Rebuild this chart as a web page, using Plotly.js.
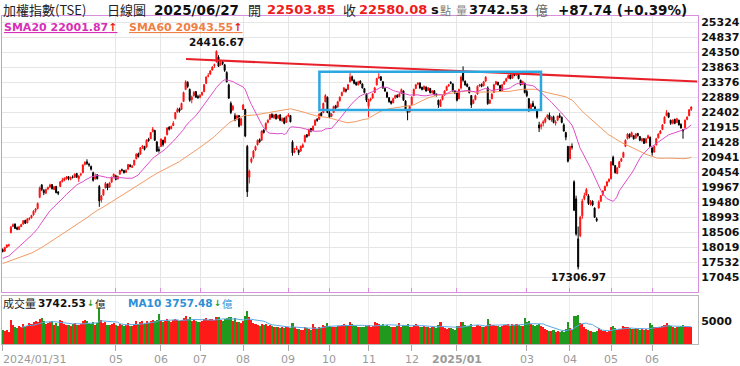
<!DOCTYPE html>
<html><head><meta charset="utf-8">
<script src="https://cdn.plot.ly/plotly-3.0.1.min.js"></script>
<style>html,body{margin:0;padding:0;background:#fff;}#chart{width:740px;height:366px;}</style>
</head><body><div id="chart"></div>
<script>
// ---- data (TAIEX daily, 2024/01/31 .. 2025/06/27) ----
const opens = [
17950,17900,18030,18090,18500,18700,18780,18660,18600,18700,
18780,18900,18820,18940,18980,19080,19220,19280,19650,20050,
19870,19780,19920,19980,20060,19900,20000,19820,20000,20160,
20200,20250,20320,20230,20310,20300,20420,20250,20380,20450,
20720,20800,20720,20650,20450,20250,20380,20000,19560,19720,
19950,20080,19980,20140,20320,20350,20240,20400,20540,20520,
20460,20560,20700,20620,20700,20900,21060,21050,21280,21300,
21280,21530,21550,21780,21820,21450,21200,21300,21500,21420,
21680,21920,21880,21980,22200,22420,22520,22500,22760,23150,
23380,23150,22820,22950,23080,22920,22900,22980,23080,23350,
23580,23650,23780,23920,24050,24200,23950,24050,23950,23700,
23300,22700,22500,22300,22200,22300,22000,22500,22500,21300,
20300,20800,20950,21180,21350,21520,21500,21830,21850,22080,
22180,22340,22230,22340,22220,22320,22130,22220,22080,22280,
22300,21450,21120,21200,21180,21150,21280,21450,21680,21650,
21880,21820,21990,22180,22180,22380,22400,22750,22900,22400,
22280,22400,22620,22580,22780,22950,23080,23150,23150,23400,
23560,23450,23380,23300,23420,23330,23180,23000,22600,22800,
22870,23050,23300,23520,23560,23400,23180,23050,22880,22760,
22720,22870,22960,22920,23020,23100,22780,22480,22420,22650,
22950,23180,23320,23360,23220,23160,23230,23120,23180,23040,
23110,23000,22800,22600,22820,22970,23120,23260,23380,23330,
23100,23050,22850,23200,23750,23420,23320,23220,22950,22700,
22820,23000,23260,23320,23270,23420,23200,22700,22850,23050,
23320,23380,23280,23120,23320,23420,23520,23620,23520,23680,
23620,23650,23450,23320,23350,23080,22850,22500,22700,22580,
22450,22000,21950,22050,22100,22250,22320,22150,22270,22050,
22150,22300,22250,22000,21750,21300,20900,21300,20150,19600,
18300,18400,19050,19600,19720,19700,19420,19520,19300,18950,
19300,19520,19720,19870,20020,20170,20250,20950,20680,20420,
20620,20820,20950,21300,21550,21700,21620,21650,21570,21720,
21620,21480,21550,21420,21570,21600,21250,21120,21350,21580,
21720,21850,22050,22300,22380,22150,22050,22180,22080,22150,
22020,21850,21900,22180,22300,22503.85];
const highs = [
17990,18040,18120,18140,18720,18800,18800,18700,18720,18790,
18900,18920,18970,19000,19080,19230,19300,19480,20000,20080,
19920,19930,20000,20090,20080,20020,20020,19850,20180,20280,
20300,20340,20340,20320,20360,20420,20440,20360,20440,20720,
20820,20883,20770,20680,20480,20420,20400,20050,19720,19920,
20150,20090,20150,20320,20420,20380,20350,20540,20580,20540,
20560,20730,20720,20700,20870,21080,21100,21280,21340,21320,
21530,21580,21770,21930,21840,21460,21300,21560,21520,21620,
21920,21960,21980,22120,22420,22560,22560,22720,23080,23450,
23420,23180,22950,23100,23100,22980,23000,23080,23330,23580,
23680,23780,23900,23990,24416.67,24260,24080,24100,23980,23740,
23340,22760,22650,22380,22330,22320,22230,22680,22520,21350,
20550,20950,21180,21330,21520,21560,21820,21860,22080,22180,
22360,22380,22350,22360,22330,22350,22240,22240,22300,22380,
22320,21500,21250,21320,21200,21330,21400,21680,21700,21880,
21900,21980,22180,22220,22380,22420,22720,23000,22920,22450,
22380,22620,22650,22780,22920,23080,23230,23180,23330,23680,
23600,23480,23400,23430,23450,23350,23200,23020,22850,22880,
23030,23230,23530,23680,23580,23420,23220,23080,22900,22790,
22880,22980,22990,23030,23180,23120,22800,22500,22630,22930,
23180,23330,23390,23380,23240,23280,23250,23230,23200,23130,
23120,23020,22820,22830,22980,23120,23270,23330,23420,23350,
23130,23080,23180,23600,23900,23440,23350,23240,22970,22830,
22980,23280,23330,23340,23430,23580,23250,22830,23030,23330,
23430,23400,23300,23330,23430,23530,23640,23640,23720,23700,
23730,23670,23470,23430,23370,23150,22870,22700,22780,22620,
22470,22100,22050,22150,22250,22350,22400,22280,22300,22150,
22300,22380,22270,22050,21780,21320,21320,21400,20200,19700,
18700,19050,19600,19800,19950,19750,19560,19550,19320,19000,
19550,19720,19880,20030,20180,20260,20820,21000,20700,20630,
20830,20930,21130,21530,21730,21720,21780,21670,21730,21740,
21640,21580,21570,21580,21680,21620,21270,21330,21580,21730,
21830,22030,22280,22480,22400,22170,22180,22200,22230,22170,
22050,21870,22180,22280,22510,22600];
const lows = [
17860,17880,18000,18040,18480,18680,18620,18580,18590,18680,
18760,18780,18800,18900,18960,19050,19150,19260,19620,19850,
19720,19760,19880,19950,19900,19880,19780,19720,19980,20130,
20170,20220,20200,20200,20260,20280,20280,20150,20330,20430,
20680,20700,20640,20520,20160,20220,20230,19340,19480,19700,
19940,19880,19960,20130,20300,20200,20230,20390,20480,20420,
20440,20540,20620,20600,20680,20880,20940,21030,21220,21170,
21260,21450,21540,21760,21480,21120,21100,21280,21300,21400,
21660,21820,21850,21960,22180,22400,22400,22480,22740,23130,
23200,22750,22700,22920,22880,22850,22860,22940,23060,23330,
23540,23620,23760,23850,24020,23880,23920,23940,23720,23380,
22840,22350,22450,22120,22150,21920,21960,22480,21600,19662,
20100,20750,20900,21150,21330,21420,21480,21720,21830,22050,
22160,22220,22200,22170,22190,22120,22100,22020,22060,22250,
22080,21000,21080,21180,21020,21130,21250,21430,21580,21630,
21760,21800,21970,22100,22160,22270,22380,22730,22380,22220,
22250,22380,22500,22560,22760,22930,23060,23050,23130,23380,
23420,23320,23270,23280,23320,23180,23020,22740,22250,22760,
22850,23030,23280,23500,23420,23170,23070,22870,22720,22660,
22700,22850,22870,22900,23000,22780,22480,22150,22400,22630,
22930,23160,23290,23170,23120,23140,23080,23100,23020,23020,
22950,22920,22550,22580,22800,22950,23100,23240,23320,23080,
23000,22760,22830,23150,23400,23270,23220,23020,22550,22680,
22800,22980,23240,23220,23250,23400,22650,22680,22830,23030,
23300,23280,23080,23100,23300,23400,23500,23480,23500,23580,
23600,23480,23280,23300,23020,22900,22420,22450,22580,22450,
22200,21770,21850,21950,22050,22200,22150,22100,22050,21980,
22120,22220,22050,21780,21500,20780,20880,21200,19200,18400,
17306.97,18350,18950,19550,19700,19400,19380,19360,18980,18850,
19280,19500,19700,19850,20000,20130,20230,20680,20420,20400,
20600,20800,20930,21280,21530,21560,21600,21520,21550,21620,
21470,21460,21380,21400,21550,21280,21000,21100,21330,21560,
21700,21830,22030,22280,22220,22000,22020,22020,22060,21980,
21880,21550,21880,22150,22280,22450];
const closes = [
17890,18020,18100,18100,18680,18760,18640,18620,18690,18760,
18890,18810,18950,18966,19060,19200,19270,19450,19950,19900,
19800,19900,19960,20050,19930,19990,19800,19780,20150,20200,
20260,20300,20250,20300,20294,20400,20300,20340,20400,20700,
20780,20750,20700,20560,20200,20320,20250,19527,19690,19900,
20100,19950,20120,20300,20400,20230,20330,20520,20530,20450,
20520,20710,20650,20660,20850,21050,20970,21260,21310,21200,
21510,21490,21750,21860,21500,21150,21170,21540,21360,21600,
21900,21860,21950,22050,22400,22500,22450,22700,23050,23400,
23250,22800,22900,23050,22900,22880,22950,23050,23300,23550,
23600,23750,23880,23950,24390,23900,24000,23990,23770,23400,
22870,22400,22600,22160,22300,21950,22200,22642,21638,19830,
20500,20900,21150,21300,21500,21450,21800,21750,22050,22150,
22330,22250,22320,22200,22300,22150,22200,22050,22270,22320,
22100,21090,21150,21250,21100,21300,21350,21650,21620,21850,
21800,21950,22150,22150,22350,22300,22700,22950,22400,22250,
22350,22600,22550,22750,22900,23050,23200,23100,23300,23550,
23450,23350,23300,23400,23350,23200,23050,22800,22800,22850,
23000,23200,23500,23550,23450,23200,23100,22900,22750,22700,
22850,22950,22900,23000,23150,22800,22500,22400,22600,22900,
23150,23300,23350,23200,23150,23250,23100,23200,23050,23100,
22980,22950,22650,22800,22950,23100,23250,23300,23350,23100,
23035,22800,23150,23550,23450,23300,23250,23050,22650,22800,
22950,23250,23300,23250,23400,23550,22694,22800,23000,23300,
23400,23300,23100,23300,23400,23500,23600,23500,23700,23600,
23700,23500,23300,23400,23050,22950,22550,22650,22600,22500,
22250,21900,22000,22100,22200,22300,22180,22250,22080,22100,
22280,22250,22080,21800,21600,20820,21298,21278,19232,18459,
17391,19000,19528,19700,19900,19450,19500,19400,19000,18900,
19500,19700,19850,20000,20150,20235,20800,20700,20450,20600,
20800,20900,21100,21500,21700,21600,21750,21550,21700,21650,
21500,21550,21400,21550,21650,21300,21100,21300,21550,21700,
21800,22000,22250,22400,22250,22050,22150,22050,22200,22000,
21900,21800,22150,22250,22492.34,22580.08];
// volume, 億
const volumes = [
3100,2900,3000,2700,5200,4200,3600,3500,3900,3800,
4300,3800,4000,4600,4300,4800,5000,4700,5400,5600,
4900,4400,4600,4800,5000,4200,4500,4000,5300,5000,
4300,4100,4200,3900,4300,4500,4200,4100,4300,5000,
5200,4900,4600,4300,4800,4200,4500,7800,5200,4600,
4800,4200,4100,4300,4500,4100,4000,4300,4200,3900,
4100,4500,4000,3900,4400,5000,4300,4800,4900,4400,
5100,4600,5000,5300,4900,5200,6500,5000,4800,5100,
5500,5000,4700,5300,5500,5200,5000,5300,5700,6000,
5400,5800,5000,5200,5000,4700,4800,5000,5400,5600,
5200,5500,5400,5300,5900,5800,5300,5100,5400,5700,
5800,5900,5000,5600,4700,4800,4500,4900,6000,7100,
5800,5200,4500,4300,4200,4000,4300,4100,4400,4000,
4200,3900,3800,3700,3600,3500,3700,3500,3800,3600,
3500,4500,3700,3300,3200,3100,3000,3600,3400,3300,
3100,4300,3800,3300,3600,3500,4200,4000,4600,4000,
3600,3800,3700,3900,4000,4100,4300,4200,4100,4800,
4300,4000,3900,3700,3600,3800,3700,4000,4100,3800,
3900,4700,4500,4300,4200,4400,4000,4100,3900,3600,
3700,3800,3900,4500,3800,4200,4000,4300,3700,3700,
4100,4300,4000,3800,3700,3900,3600,3800,3500,3600,
3700,3400,4200,4700,3800,3500,3300,3400,3500,3300,
3100,3900,4000,4700,4800,4200,4000,3900,4300,3800,
3700,4100,3900,3600,3800,4000,5400,4300,4100,4200,
4000,3900,3800,4000,4100,4200,4300,4000,4400,4100,
4300,4200,4000,3900,5600,4700,4900,4400,4100,3900,
4100,4300,4000,3700,3300,3000,2900,2800,3000,2700,
2900,2600,2800,2700,3300,4700,3500,3100,6100,6000,
6200,4500,4400,3600,3200,3000,2800,2600,2700,2900,
3400,3000,2800,2900,2700,2900,3600,4000,3400,3100,
3300,3200,3900,3700,3600,3400,3300,3200,3500,3300,
3100,3200,3000,3300,3100,4500,4200,3600,3700,3800,
3600,4000,4200,4500,4100,3900,3600,3500,3700,3600,
4000,4100,3800,3800,3800,3742.53];
// closes before 2024/01/31 (only used to warm up the moving averages)
const priorCloses = [
16850,16780,16820,16900,16950,17250,17300,17280,17390,17450,17380,17420,17400,17350,17300,17380,17430,
17380,17400,17350,17320,17280,17300,17350,17380,17420,17500,17600,17650,17580,17550,17600,17650,17700,17780,17850,17900,17930,
17850,17600,17560,17540,17530,17580,17540,17560,17600,17560,17460,17380,17420,17720,17790,17800,17900,17850,17800,17900,17940];
const monthTickIdx  = [0,55,77,96,117,139,159,178,199,221,255,276,296,316];
const monthTickText = ['2024/01/31','05','06','07','08','09','10','11','12','2025/01','03','04','05','06'];
const priceTicks = [25324,24837,24350,23863,23376,22889,22402,21915,21428,20941,20454,19967,19480,18993,18506,18019,17532,17045];
const volTicks = [5000];
// hand-drawn annotations on the original chart (index / price coordinates)
const trendLine = {x:[89.2, 337.9], y:[24139, 23408]};
const rangeBox  = {x:[154.1, 261.9], y:[22483, 23727]};

// ---- derived ----
const N = closes.length;
const idx = closes.map((_, i) => i);
function sma(n){
  const all = priorCloses.concat(closes), off = priorCloses.length;
  return closes.map((_, i) => { let s = 0; for (let k = off + i - n + 1; k <= off + i; k++) s += all[k]; return s / n; });
}
const sma20 = sma(20), sma60 = sma(60);
const volMA10x = [], volMA10 = [];
for (let i = 9; i < N; i++){ let s = 0; for (let k = i - 9; k <= i; k++) s += volumes[k]; volMA10x.push(i); volMA10.push(s / 10); }
const up = closes.map((c, i) => c >= opens[i]);
const volColors = up.map(u => u ? '#ff1a1a' : '#1f9a1f');

const RED = '#ff1010', BORDER = '#d98ee0', GRID = '#e6e6e6';
const px = x => (x - 2) / 696, py = y => (344 - y) / 328;
const CJK = 'Noto Sans CJK TC', NUM = 'DejaVu Sans';

const traces = [
  {type:'scatter', mode:'lines', x:idx, y:sma60, line:{color:'#f39a62', width:1}, xaxis:'x', yaxis:'y', hoverinfo:'skip'},
  {type:'scatter', mode:'lines', x:idx, y:sma20, line:{color:'#e04cc8', width:1}, xaxis:'x', yaxis:'y', hoverinfo:'skip'},
  {type:'candlestick', x:idx, open:opens, high:highs, low:lows, close:closes, xaxis:'x', yaxis:'y',
   increasing:{line:{color:RED, width:1}, fillcolor:RED},
   decreasing:{line:{color:'#000000', width:1}, fillcolor:'#000000'}, whiskerwidth:0, hoverinfo:'skip'},
  {type:'bar', x:idx, y:volumes, marker:{color:volColors, line:{width:0}}, xaxis:'x2', yaxis:'y2', hoverinfo:'skip'},
  {type:'scatter', mode:'lines', x:volMA10x, y:volMA10, line:{color:'#5aa8e4', width:1}, xaxis:'x2', yaxis:'y2', hoverinfo:'skip'}
];

function txt(text, x, y, size, color, family, extra){
  return Object.assign({text:text, x:px(x), y:py(y), xref:'paper', yref:'paper', xanchor:'left', yanchor:'middle',
    showarrow:false, borderpad:0, font:{family:family||NUM, size:size, color:color}}, extra||{});
}
const annotations = [
  txt('加權指數(TSE)', 2, 9.5, 13, '#222', CJK),
  txt('日線圖', 106, 9.5, 13, '#222', CJK),
  txt('<b>2025/06/27</b>', 153, 9.5, 13.5, '#111'),
  txt('開', 247, 9.5, 13, '#222', CJK),
  txt('<b>22503.85</b>', 266, 9.5, 13, '#ee1c1c'),
  txt('收', 342, 9.5, 13, '#222', CJK),
  txt('<b>22580.08</b>', 358, 9.5, 13, '#ee1c1c'),
  txt('<b>s</b>', 430, 9.5, 13, '#111'),
  txt('點', 439, 9.5, 11, '#777', CJK),
  txt('量', 455, 9.5, 11, '#888', CJK),
  txt('<b>3742.53</b>', 468, 9.5, 13, '#111'),
  txt('億', 534, 9.5, 13, '#666', CJK),
  txt('<b>+87.74 (+0.39%)</b>', 557, 9.5, 13.5, '#111'),
  txt('<u><b>SMA20 22001.87</b><span style="color:#e81a1a"><b>↑</b></span></u>', 3, 27, 11, '#d82fb8'),
  txt('<u><b>SMA60 20943.55</b><span style="color:#e81a1a"><b>↑</b></span></u>', 128, 27, 11, '#f07f45'),
  txt('成交量', 2, 303, 11, '#222', CJK),
  txt('<b>3742.53</b>', 37, 303, 10.5, '#111'),
  txt('<b>↓</b>', 86, 303, 8.5, '#1f9a1f'),
  txt('億', 94, 303, 10.5, '#222', CJK),
  txt('<b>MA10 3757.48</b>', 127, 303, 10.5, '#2e8fd6'),
  txt('<b>↓</b>', 213, 303, 8.5, '#1f9a1f'),
  txt('億', 221, 303, 10.5, '#2e8fd6', CJK)
];
// extreme labels
let iMax = 0, iMin = 0;
highs.forEach((h, i) => { if (h > highs[iMax]) iMax = i; });
lows.forEach((l, i) => { if (l < lows[iMin]) iMin = i; });
annotations.push({text:'<b>' + highs[iMax].toFixed(2) + '</b>', x:iMax, y:highs[iMax], xref:'x', yref:'y',
  xanchor:'center', yanchor:'bottom', showarrow:false, borderpad:0, yshift:1, font:{family:NUM, size:10.5, color:'#111'}});
annotations.push({text:'<b>' + lows[iMin].toFixed(2) + '</b>', x:iMin, y:lows[iMin], xref:'x', yref:'y',
  xanchor:'center', yanchor:'top', showarrow:false, borderpad:0, yshift:-1, font:{family:NUM, size:10.5, color:'#111'}});
// x tick labels
monthTickIdx.forEach((t, k) => {
  const bold = monthTickText[k] === '2025/01';
  annotations.push({text: bold ? '<b>' + monthTickText[k] + '</b>' : monthTickText[k], x:t, y:py(359), xref:'x2', yref:'paper',
    xanchor: k === 0 ? 'left' : 'center', xshift: k === 0 ? -1 : 0, yanchor:'middle', showarrow:false, borderpad:0,
    font:{family:NUM, size:11, color:'#9a9a9a'}});
});

const shapes = [
  {type:'line', xref:'x', yref:'y', x0:trendLine.x[0], y0:trendLine.y[0], x1:trendLine.x[1], y1:trendLine.y[1],
   line:{color:'#e8202a', width:2.2}, layer:'above'},
  {type:'rect', xref:'x', yref:'y', x0:rangeBox.x[0], y0:rangeBox.y[0], x1:rangeBox.x[1], y1:rangeBox.y[1],
   line:{color:'#2aa7e0', width:2.5}, fillcolor:'rgba(0,0,0,0)', layer:'above'}
];

const layout = {
  width:740, height:366, margin:{l:2, r:42, t:16, b:22}, paper_bgcolor:'#fff', plot_bgcolor:'#fff',
  showlegend:false, bargap:0, dragmode:false, font:{family:NUM},
  xaxis:{domain:[0,1], anchor:'y', range:[-0.34, 338.3], tickvals:monthTickIdx, showticklabels:false,
    ticks:'inside', ticklen:4, tickcolor:BORDER, showgrid:true, gridcolor:GRID, showline:true, mirror:true,
    linecolor:BORDER, linewidth:1, zeroline:false, rangeslider:{visible:false}, fixedrange:true},
  yaxis:{domain:[0.1585,1], anchor:'x', range:[16574, 25535], side:'right', tickvals:priceTicks,
    ticktext:priceTicks.map(String), tickfont:{family:NUM, size:11, color:'#111', weight:'bold'},
    ticks:'', showgrid:true, gridcolor:GRID, showline:true, mirror:true, linecolor:BORDER, linewidth:1, zeroline:false, fixedrange:true},
  xaxis2:{domain:[0,1], anchor:'y2', matches:'x', range:[-0.34, 338.3], tickvals:monthTickIdx, showticklabels:false,
    ticks:'outside', ticklen:6, tickcolor:'#aaa', showgrid:true, gridcolor:'#ececec', showline:true, mirror:true,
    linecolor:'#b8b8b8', zeroline:false, fixedrange:true},
  yaxis2:{domain:[0,0.1463], anchor:'x2', range:[0, 10435], side:'right', tickvals:volTicks, ticktext:volTicks.map(String),
    tickfont:{family:NUM, size:11, color:'#111', weight:'bold'}, ticks:'', showgrid:false, showline:true, mirror:true,
    linecolor:'#b8b8b8', zeroline:false, fixedrange:true},
  annotations:annotations, shapes:shapes
};
Plotly.newPlot('chart', traces, layout, {displayModeBar:false, staticPlot:true});
</script></body></html>
